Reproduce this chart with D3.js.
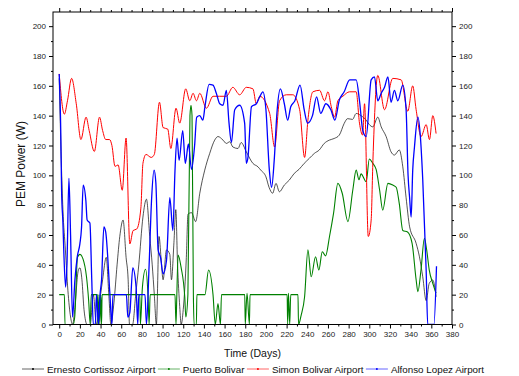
<!DOCTYPE html>
<html>
<head>
<meta charset="utf-8">
<script src="https://cdn.jsdelivr.net/npm/d3@7"></script>
<style>
body { margin: 0; background: #fff; }
svg { font-family: "Liberation Sans", Arial, sans-serif; }
</style>
</head>
<body>
<script>
// day, PEM power (W)
var xTicks = d3.range(0, 381, 20);
var yTicks = d3.range(0, 201, 20);

var seriesNames = ["Ernesto Cortissoz Airport", "Puerto Bolivar", "Simon Bolivar Airport", "Alfonso Lopez Airport"];

var cortissoz = [[0,165],[2,110],[3.6,77],[6,50],[8.4,23],[11,5],[13,0],[15,10],[18.4,36],[20,38],[22,30],[24,10],[27,0],[30,0],[33,20],[36,0],[40,20],[42,30],[45.5,45],[48,20],[50,0],[53,15],[56,40],[58.6,59],[61.8,70],[64.7,45],[66.7,30],[68,0],[71,0],[74,20],[77,40],[81,72],[84.4,84],[87.6,59],[90,40],[92,20],[94,0],[96.6,59],[98.5,45],[100.5,30],[103.8,50],[107,47],[108.6,30],[111,55],[112.8,77],[114.5,40],[116.6,12],[118,0],[120,10],[123,45],[124.6,74],[128,75],[132,69],[136,88],[140.8,103.5],[145.6,114.7],[150.4,123.6],[153.6,126],[158.5,123.6],[161.7,121.4],[165,122.5],[168,119],[173,118],[176,122],[181,115.8],[187.4,108],[192.3,105.7],[195,103.5],[200,99],[203,92],[206.5,88],[209.7,94.6],[213,89],[217.8,93.5],[222.6,96.8],[227.4,101.3],[232,104],[237,108],[242,111.4],[246.8,114.7],[251.6,117],[256.4,121.4],[261.3,123.6],[266,124.7],[271,127],[275.7,134.8],[279,138],[283.8,137.5],[287.3,141.5],[292,140],[297,137],[300,134],[303.4,132.5],[308.2,139],[311.5,132.5],[316.3,126],[321,115.8],[324.3,113.6],[329,117],[332.4,105.7],[335.6,85],[339,65.5],[345.3,54.4],[348.5,45.4],[351.7,32],[355,16],[358,27.6],[361.4,29.8],[364.6,18.6]];

var puertoBolivar = [[0,20],[5,20],[5.6,0],[13.5,0],[15,5],[17.7,45],[20,47],[23,44],[26.4,32],[28.5,16],[30,0],[31,20],[37,20],[37.5,0],[38.5,20],[39.3,0],[40.2,20],[41,0],[41.5,20],[78,20],[78.5,0],[80.5,25],[83.5,37],[86,18],[87,0],[88,20],[112,20],[113,0],[113.8,20],[115,46.6],[118,38],[121.5,18],[122.5,5],[124.5,20],[126.5,140],[127.5,147],[128.5,140],[129.8,20],[130.5,0],[132.7,0],[133.2,20],[141,20],[144.5,36.5],[148.8,20],[151,0],[153.6,14],[156,0],[157,20],[179.5,20],[180,0],[181.7,21],[184,0],[184.6,20],[220.5,20],[221,0],[221.8,21],[223,0],[224,20],[231,20],[231.5,0],[234,6],[237.4,18.6],[240.6,50],[243.8,32],[248,45.4],[251.2,36.5],[254.5,48.8],[257.7,46],[261.5,59],[265.4,74.5],[269.6,94.6],[273.8,88],[279.3,69],[284,90],[287.3,103.5],[290,97],[292,101],[297,95.7],[300,111],[303.4,108],[306.6,104],[310,90],[313,76.7],[318,94.6],[322.7,93.5],[326,92],[329,81],[332.4,63],[337,62],[341.4,54.4],[345.3,30],[347,22],[350,36.5],[353.3,57.8],[355.5,50],[358,36.5],[361.4,27.6],[364.6,21]];

var simonBolivar = [[0,168],[5,141],[8,150],[12,165],[16.5,148],[21,124],[26,139],[29,130],[34,116],[39,139],[42,130],[45,124],[48.7,124],[51,120],[54,106],[57,107],[61,90],[64.7,125],[68.3,54],[71.5,63],[75,64],[79,78],[81,108],[84,114],[89,112],[92,114],[97,149],[100.5,132],[105,131],[108,118],[113,145],[116.6,135],[122.4,158],[126.3,150],[129.5,155],[132.8,150],[136,155],[142.4,145],[148.8,153],[155,153],[161.7,153],[168,159],[174.6,154],[181,159],[187.4,158],[190.7,148],[194,153],[203.6,141.5],[208.4,119],[213.2,150],[219.7,154],[226,154],[232.6,144],[237.4,112],[240.6,137],[245.4,156],[251.9,157],[256.7,150],[260,156],[263.2,146],[266.4,139],[269.6,150],[274.4,153],[280.9,156],[287.3,156],[290.5,135],[293.5,127],[295.4,148],[299,59],[301.8,70],[303.5,110],[308.2,167],[314.7,144],[322.7,165],[330.8,164],[337.2,143],[342,160],[345.3,144],[350.1,126],[355,134],[358.2,124],[361.4,140],[364.6,128]];

var alfonsoLopez = [[0,168],[1.5,130],[2.3,90],[3.6,68],[4.5,48],[6.2,25],[7.5,40],[9.4,98],[11,60],[12.9,5],[15.2,30],[17.4,45],[20,54],[21.6,65],[23.2,93.5],[25.8,83],[27,70],[29.7,68],[31.5,30],[33,0],[35,0],[36,20],[38,0],[39.5,20],[41,30],[43.2,65.5],[45,62],[49,21],[51,0],[52,20],[65,20],[66.4,5],[68.3,8],[71.2,38],[74.4,25],[76,0],[77,20],[83,20],[84.4,0],[87,40],[89.3,83],[91.8,103.5],[93.5,95],[95.7,50],[98,45],[100.5,34],[103.8,43],[107,85],[110,63],[112,103],[114,125],[116,110],[119.5,130],[122,108],[125,121],[128,104],[131,120],[133,139],[136,140],[139,137],[141,146],[145,161],[148.8,160.5],[152,155],[155.3,148],[158.5,147],[161.7,157],[164.3,135],[166.6,122],[169.8,144],[174.6,147],[179.4,135],[181,108],[182.6,112],[186,146],[190.7,148],[194,152.6],[197,156],[200,144],[203.3,103.5],[205.5,92],[208,110],[210.6,141.5],[214,158],[217.8,148],[221,137],[224,146],[228,150],[233,160.5],[237,144],[240.3,135],[245,140],[249,152.6],[253,141.5],[258,148],[262.8,144],[266.7,137],[271,150.4],[275.7,156],[281,164],[287.3,164],[290.5,150],[293.7,130],[297,126],[301.8,164],[305,166],[308.2,150],[311.5,155],[314.7,159],[318,166],[321,149],[324.3,157],[327.6,150],[332.4,160.5],[335.6,144],[337.5,100],[339,85],[340.5,72],[342,103.5],[343.7,119],[347,139],[349.5,125],[351.7,97],[355,36.5],[356.5,0],[360,0],[362.5,0],[365,39]];

var allSeries = [cortissoz, puertoBolivar, simonBolivar, alfonsoLopez];
var colors = ["#000000", "#008000", "#ff0000", "#0000ff"];
var widths = [0.8, 1.1, 1, 1.3];

var width = 519, height = 376;
var pLeft = 53, pRight = 452, pTop = 12, pBottom = 324.5;

var svg = d3.select("body").append("svg")
  .attr("width", width)
  .attr("height", height);

var x = d3.scaleLinear().domain([-6, 380]).range([pLeft, pRight]);
var y = d3.scaleLinear().domain([0, 209.5]).range([pBottom, pTop]);

var xMinor = d3.range(10, 380, 20);
var yMinor = d3.range(10, 209, 20);

function styleAxis(g) {
  g.select(".domain").remove();
  g.selectAll("line").attr("stroke", "#000");
  g.selectAll("text").attr("fill", "#222").style("font-size", "8px");
}

// bottom
svg.append("g").attr("transform", "translate(0," + pBottom + ")")
  .call(d3.axisBottom(x).tickValues(xTicks).tickSize(4).tickPadding(3)).call(styleAxis);
svg.append("g").attr("transform", "translate(0," + pBottom + ")")
  .call(d3.axisBottom(x).tickValues(xMinor).tickSize(2).tickFormat("")).call(styleAxis);
// top
svg.append("g").attr("transform", "translate(0," + pTop + ")")
  .call(d3.axisTop(x).tickValues(xTicks).tickSize(4).tickFormat("")).call(styleAxis);
svg.append("g").attr("transform", "translate(0," + pTop + ")")
  .call(d3.axisTop(x).tickValues(xMinor).tickSize(2).tickFormat("")).call(styleAxis);
// left
svg.append("g").attr("transform", "translate(" + pLeft + ",0)")
  .call(d3.axisLeft(y).tickValues(yTicks).tickSize(4).tickPadding(3)).call(styleAxis);
svg.append("g").attr("transform", "translate(" + pLeft + ",0)")
  .call(d3.axisLeft(y).tickValues(yMinor).tickSize(2).tickFormat("")).call(styleAxis);
// right
svg.append("g").attr("transform", "translate(" + pRight + ",0)")
  .call(d3.axisRight(y).tickValues(yTicks).tickSize(4).tickPadding(3)).call(styleAxis);
svg.append("g").attr("transform", "translate(" + pRight + ",0)")
  .call(d3.axisRight(y).tickValues(yMinor).tickSize(2).tickFormat("")).call(styleAxis);

svg.append("defs").append("clipPath").attr("id", "plotclip")
  .append("rect")
  .attr("x", pLeft).attr("y", pTop)
  .attr("width", pRight - pLeft).attr("height", pBottom - pTop);

var line = d3.line()
  .x(function(d) { return x(d[0]); })
  .y(function(d) { return y(d[1]); })
  .curve(d3.curveMonotoneX);

svg.append("g").attr("clip-path", "url(#plotclip)")
  .selectAll("path")
  .data(allSeries)
  .enter()
  .append("path")
  .attr("d", line)
  .attr("fill", "none")
  .attr("stroke", function(d, i) { return colors[i]; })
  .attr("stroke-width", function(d, i) { return widths[i]; })
  .attr("stroke-opacity", function(d, i) { return i == 0 ? 0.85 : 1; });

svg.append("rect")
  .attr("x", pLeft).attr("y", pTop)
  .attr("width", pRight - pLeft).attr("height", pBottom - pTop)
  .attr("fill", "none")
  .attr("stroke", "#000")
  .attr("stroke-width", 1);

// axis titles
svg.append("text")
  .attr("x", (pLeft + pRight) / 2)
  .attr("y", 357)
  .attr("text-anchor", "middle")
  .style("font-size", "10.5px")
  .attr("fill", "#111")
  .text("Time (Days)");

svg.append("text")
  .attr("transform", "translate(25,164) rotate(-90)")
  .attr("text-anchor", "middle")
  .style("font-size", "12px")
  .attr("fill", "#111")
  .text("PEM Power (W)");

// legend
var lx = 22;
var legend = svg.append("g");
seriesNames.forEach(function(name, i) {
  legend.append("line")
    .attr("x1", lx).attr("x2", lx + 22)
    .attr("y1", 369).attr("y2", 369)
    .attr("stroke", colors[i])
    .attr("stroke-opacity", 0.6)
    .attr("stroke-width", 1);
  legend.append("circle")
    .attr("cx", lx + 11).attr("cy", 369).attr("r", 1)
    .attr("fill", colors[i]);
  var t = legend.append("text")
    .attr("x", lx + 25)
    .attr("y", 372.5)
    .style("font-size", "9.8px")
    .attr("fill", "#111")
    .text(name);
  lx = lx + 25 + t.node().getComputedTextLength() + 2.5;
});
</script>
</body>
</html>
